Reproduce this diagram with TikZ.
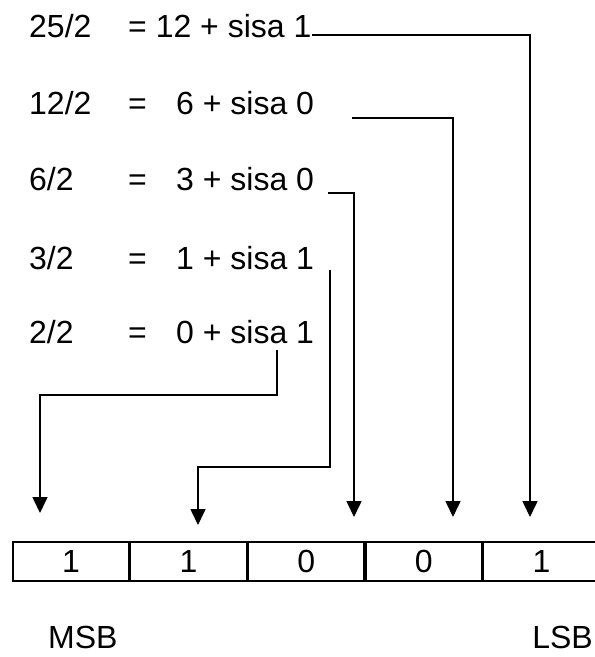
\documentclass[tikz,border=0pt]{standalone}
\usepackage{fontspec}
\setmainfont{Liberation Sans}
\usetikzlibrary{arrows.meta}
\begin{document}
\begin{tikzpicture}[x=1pt,y=-1pt,
  txt/.style={font=\fontsize{32}{38}\selectfont, inner sep=0pt, anchor=base west},
  cell/.style={draw, line width=1.6pt, minimum width=116pt, minimum height=39pt, inner sep=0pt, font=\fontsize{32}{38}\selectfont},
  conn/.style={line width=1.6pt},
  arr/.style={conn, -{Triangle[width=15pt,length=16pt]}}]
\useasboundingbox (0,0) rectangle (595,657);
% equations
\node[txt] (a1) at (29,37) {25/2};
\node[txt] (b1) at (128,37) {= 12 + sisa 1};
\node[txt] (a2) at (29,114) {12/2};
\node[txt] (e2) at (128,114) {=};
\node[txt] (b2) at (176,114) {6 + sisa 0};
\node[txt] (a3) at (29,190) {6/2};
\node[txt] (e3) at (128,190) {=};
\node[txt] (b3) at (176,190) {3 + sisa 0};
\node[txt] (a4) at (29,269) {3/2};
\node[txt] (e4) at (128,269) {=};
\node[txt] (b4) at (176,269) {1 + sisa 1};
\node[txt] (a5) at (29,343) {2/2};
\node[txt] (e5) at (128,343) {=};
\node[txt] (b5) at (176,343) {0 + sisa 1};
% cells
\node[cell] (c1) at (71,561.5) {1};
\node[cell, anchor=west] (c2) at (c1.east) {1};
\node[cell, anchor=west] (c3) at (c2.east) {0};
\node[cell, anchor=west] (c4) at (c3.east) {0};
\node[cell, anchor=west] (c5) at (c4.east) {1};
\node[txt] (msb) at (48,648) {MSB};
\node[txt, anchor=base east] (lsb) at (593,648) {LSB};
% connector points
\coordinate (t1) at (40,513);
\coordinate (t2) at (198,525);
\coordinate (t3) at (354,517);
\coordinate (t4) at (453,517);
\coordinate (t5) at (530,517);
\coordinate (s2) at (352,118);
\coordinate (s3) at (328,193);
\coordinate (s4) at (330,270);
\coordinate (k4) at (198,467);
\coordinate (s5) at (277,350);
\coordinate (k5) at (40,395);
% connectors
\draw[arr] ([yshift=2pt]b1.base east) -| (t5);
\draw[arr] (s2) -| (t4);
\draw[arr] (s3) -| (t3);
\draw[arr] (s4) |- (k4) -- (t2);
\draw[arr] (s5) |- (k5) -- (t1);
\end{tikzpicture}
\end{document}
